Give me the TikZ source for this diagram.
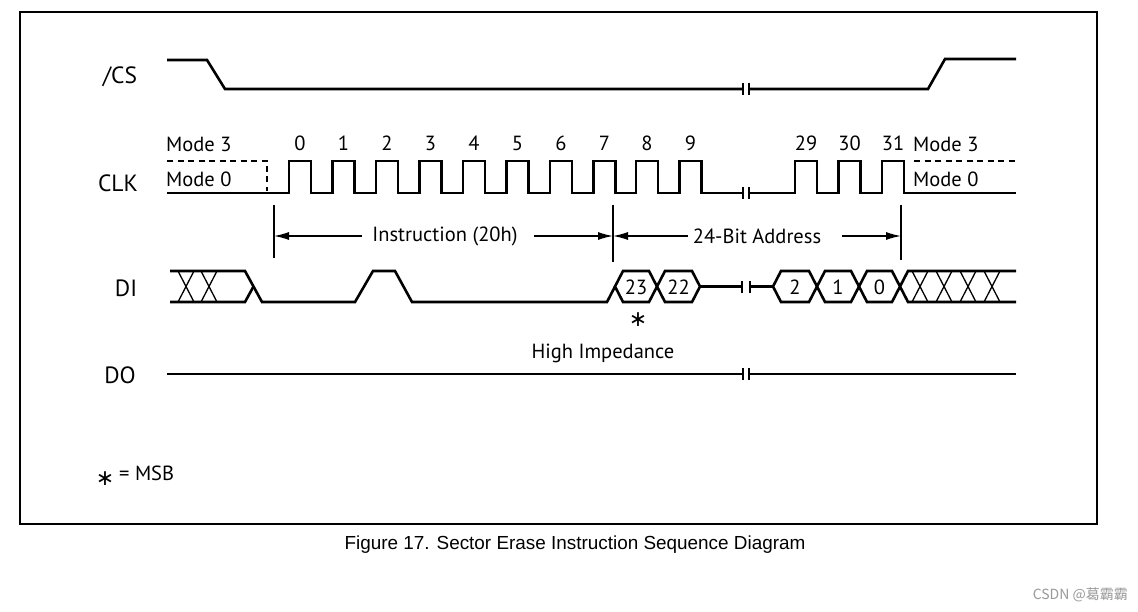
\documentclass[tikz,border=0pt]{standalone}
\usepackage{fontspec}
\setmainfont{PT Sans}
\newfontfamily\capfont{Liberation Sans}
\newfontfamily\symfont{DejaVu Sans}
\newfontfamily\cjkfont{Noto Sans CJK SC}
\usetikzlibrary{arrows.meta}
\begin{document}
\begin{tikzpicture}[x=1pt,y=-1pt,
  sig/.style={line width=2.6pt},
  hatch/.style={line width=1.3pt},
  brk/.style={line width=1.1pt},
  dim/.style={line width=1.3pt},
  dimarrow/.style={dim,-{Latex[length=15pt,width=8pt]}},
  modeline/.style={line width=2.4pt,dash pattern=on 6pt off 4.5pt},
  lbl/.style={font=\fontsize{20.5}{24}\selectfont,inner sep=0pt},
  sname/.style={font=\fontsize{23.5}{26}\selectfont,inner sep=0pt},
  star/.style={font=\symfont\fontsize{22}{22}\selectfont,inner sep=0pt},
  ]
\useasboundingbox (0,0) rectangle (1138,612);
\fill[white] (0,0) rectangle (1138,612);
% frame
\draw[line width=1.8pt] (20,12) rectangle (1097,524);

% signal names
\node[sname] (ncs)  at (120,77)  {/CS};
\node[sname] (nclk) at (118,183) {CLK};
\node[sname] (ndi)  at (126,288) {DI};
\node[sname] (ndo)  at (120,375) {DO};

% /CS
\draw[sig] (167,60) -- (207,60) -- (225,89) -- (743,89);
\draw[sig] (749,89) -- (928,89) -- (945,59) -- (1016,59);
\draw[brk] (743,83) -- (743,95) (749,83) -- (749,95);

% CLK
\node[lbl,anchor=west] (m3l) at (166,144) {Mode 3};
\node[lbl,anchor=west] (m0l) at (166,179) {Mode 0};
\node[lbl,anchor=west] (m3r) at (913,144) {Mode 3};
\node[lbl,anchor=west] (m0r) at (913,179) {Mode 0};
\draw[modeline] (167,161) -- (267,161) -- (267,191);
\draw[modeline] (914,161) -- (1016,161);
\draw[sig] (167,193)
  \foreach \r in {289,332.5,376,419.5,463,506.5,550,593.5,636,679.5} {
    -- (\r,193) -- (\r,161) -- ({\r+22},161) -- ({\r+22},193) }
  -- (743,193);
\draw[sig] (749,193)
  \foreach \r in {795,838.5,882} {
    -- (\r,193) -- (\r,161) -- ({\r+22},161) -- ({\r+22},193) }
  -- (1016,193);
\draw[brk] (743,187) -- (743,199) (749,187) -- (749,199);
\foreach \r/\t [count=\i] in {289/0,332.5/1,376/2,419.5/3,463/4,506.5/5,550/6,593.5/7,636/8,679.5/9,795/29,838.5/30,882/31}
  \node[lbl] (c\i) at ({\r+11},143) {\t};

% dimension lines
\coordinate (t1) at (274,236);
\coordinate (t2) at (613,236);
\coordinate (t3) at (901,236);
\draw[dim] (274,205) -- (274,258);
\draw[dim] (613,205) -- (613,262);
\draw[dim] (901,205) -- (901,260);
\node[lbl] (instr) at (445,236) {Instruction (20h)};
\node[lbl] (addr) at (757,236) {24-Bit Address};
\coordinate (a1) at (362,236);
\coordinate (a2) at (534,236);
\coordinate (a3) at (688,236);
\coordinate (a4) at (842,236);
\draw[dimarrow] (a1) -- (t1);
\draw[dimarrow] (a2) -- (t2);
\draw[dimarrow] (a3) -- (t2);
\draw[dimarrow] (a4) -- (t3);

% DI
\draw[sig] (170,271) -- (245,271) -- (262,302) -- (355,302) -- (373,271) -- (395,271)
  -- (412,302) -- (607,302) -- (615,286.5);
\draw[sig] (170,302) -- (245,302) -- (253.5,286.5);
\foreach \c in {186,209}
  \draw[hatch] ({\c-8},271) -- ({\c+8},302) ({\c-8},302) -- ({\c+8},271);
% hexagons
\foreach \L/\R/\t [count=\i] in {615/657/23,657/700/22,773/817/2,817/859/1,859/900/0} {
  \draw[sig] (\L,286.5) -- ({\L+8},271) -- ({\R-8},271) -- (\R,286.5)
     -- ({\R-8},302) -- ({\L+8},302) -- cycle;
  \node[lbl] (h\i) at ({(\L+\R)/2},287) {\t};
}
\draw[sig] (700,286.5) -- (742,286.5);
\draw[sig] (750,286.5) -- (773,286.5);
\draw[brk] (742,281) -- (742,293) (750,281) -- (750,293);
% trailing don't-care
\draw[sig] (900,286.5) -- (908,271) -- (1016,271);
\draw[sig] (900,286.5) -- (908,302) -- (1016,302);
\foreach \c in {920,944,968,992}
  \draw[hatch] ({\c-8},271) -- ({\c+8},302) ({\c-8},302) -- ({\c+8},271);
\node[star] (msb) at (638,320) {∗};

% DO
\node[lbl] (hiz) at (603,353) {High Impedance};
\draw[sig] (167,374) -- (743,374);
\draw[sig] (749,374) -- (1016,374);
\draw[brk] (743,368) -- (743,380) (749,368) -- (749,380);

% legend
\node[star] (lstar) at (105,479) {∗};
\node[lbl,anchor=west] (eqmsb) at (119,473) {= MSB};

% caption
\node[font=\capfont\fontsize{18.9}{22}\selectfont,inner sep=0pt] (cap) at (575,545)
  {Figure 17. Sector Erase Instruction Sequence Diagram};
\node[font=\cjkfont\fontsize{14}{16}\selectfont,text=black!40,anchor=east,inner sep=0pt] (wm)
  at (1128,595) {CSDN @葛霸霸};
\end{tikzpicture}
\end{document}
